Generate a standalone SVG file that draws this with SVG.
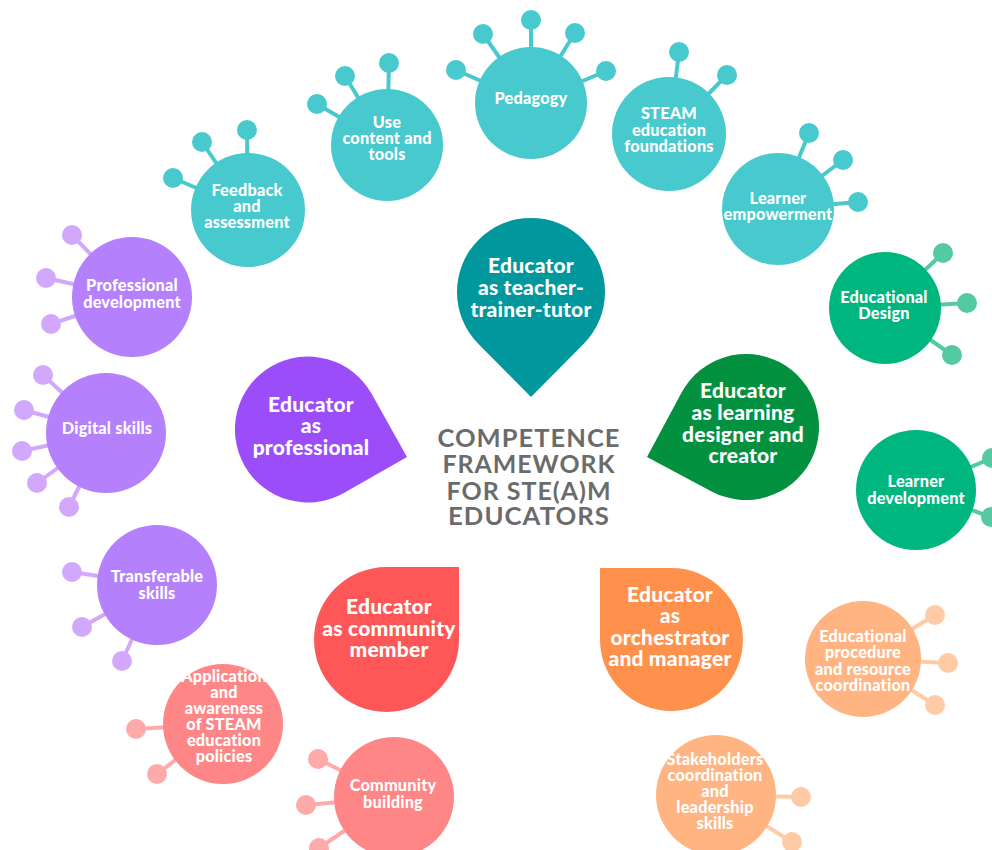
<svg xmlns="http://www.w3.org/2000/svg" width="992" height="850" viewBox="0 0 992 850">
<style>
text{font-family:Lato,"Open Sans","Liberation Sans",sans-serif;font-weight:900;fill:#ffffff;text-anchor:middle}
.s{font-size:16.3px;letter-spacing:0.2px}
.b{font-size:21px;letter-spacing:0.2px}
.title{font-size:25px;font-weight:700;fill:#6b6b6b;letter-spacing:1px}
.teal{fill:#48c9cd}.teal-l{stroke:#48c9cd;stroke-width:4}
.grn{fill:#00b67f}.grn-b{fill:#55c9a0}.grn-l{stroke:#55c9a0;stroke-width:4}
.pur{fill:#b580fc}.pur-b{fill:#d2a8fd}.pur-l{stroke:#d2a8fd;stroke-width:4}
.pnk{fill:#ff8686}.pnk-b{fill:#ffaaaa}.pnk-l{stroke:#ffaaaa;stroke-width:4}
.org{fill:#ffb482}.org-b{fill:#ffcba5}.org-l{stroke:#ffcba5;stroke-width:4}
</style>
<rect width="992" height="850" fill="#ffffff"/>

<g id="connectors"></g>

<!-- Teal competences -->
<g id="feedback">
<g class="teal-l"><line x1="248" y1="210" x2="173" y2="178"/><line x1="248" y1="210" x2="202" y2="142"/><line x1="248" y1="210" x2="247" y2="130"/></g>
<circle cx="248" cy="210" r="57" class="teal"/>
<circle cx="173" cy="178" r="10" class="teal"/><circle cx="202" cy="142" r="10" class="teal"/><circle cx="247" cy="130" r="10" class="teal"/>
<text class="s" x="247" y="196">Feedback<tspan x="247" dy="16">and</tspan><tspan x="247" dy="16">assessment</tspan></text>
</g>
<g id="content">
<g class="teal-l"><line x1="387" y1="145" x2="317" y2="104"/><line x1="387" y1="145" x2="345" y2="76"/><line x1="387" y1="145" x2="389" y2="63"/></g>
<circle cx="387" cy="145" r="56" class="teal"/>
<circle cx="317" cy="104" r="10" class="teal"/><circle cx="345" cy="76" r="10" class="teal"/><circle cx="389" cy="63" r="10" class="teal"/>
<text class="s" x="387" y="128">Use<tspan x="387" dy="16">content and</tspan><tspan x="387" dy="16">tools</tspan></text>
</g>
<g id="pedagogy">
<g class="teal-l"><line x1="531" y1="103" x2="456" y2="70"/><line x1="531" y1="103" x2="483" y2="34"/><line x1="531" y1="103" x2="531" y2="20"/><line x1="531" y1="103" x2="575" y2="33"/><line x1="531" y1="103" x2="606" y2="71"/></g>
<circle cx="531" cy="103" r="56" class="teal"/>
<circle cx="456" cy="70" r="10" class="teal"/><circle cx="483" cy="34" r="10" class="teal"/><circle cx="531" cy="20" r="10" class="teal"/><circle cx="575" cy="33" r="10" class="teal"/><circle cx="606" cy="71" r="10" class="teal"/>
<text class="s" x="531" y="104">Pedagogy</text>
</g>
<g id="steam">
<g class="teal-l"><line x1="669" y1="134" x2="679" y2="52"/><line x1="669" y1="134" x2="727" y2="75"/></g>
<circle cx="669" cy="134" r="57" class="teal"/>
<circle cx="679" cy="52" r="10" class="teal"/><circle cx="727" cy="75" r="10" class="teal"/>
<text class="s" x="669" y="119">STEAM<tspan x="669" dy="16.5">education</tspan><tspan x="669" dy="16.5">foundations</tspan></text>
</g>
<g id="empowerment">
<g class="teal-l"><line x1="778" y1="209" x2="809" y2="133"/><line x1="778" y1="209" x2="843" y2="160"/><line x1="778" y1="209" x2="858" y2="202"/></g>
<circle cx="778" cy="209" r="56" class="teal"/>
<circle cx="809" cy="133" r="10" class="teal"/><circle cx="843" cy="160" r="10" class="teal"/><circle cx="858" cy="202" r="10" class="teal"/>
<text class="s" x="778" y="204">Learner<tspan x="778" dy="15.5">empowerment</tspan></text>
</g>

<!-- Green competences -->
<g id="edesign">
<g class="grn-l"><line x1="885" y1="308" x2="943" y2="253"/><line x1="885" y1="308" x2="967" y2="303"/><line x1="885" y1="308" x2="952" y2="355"/></g>
<circle cx="885" cy="308" r="56" class="grn"/>
<circle cx="943" cy="253" r="10" class="grn-b"/><circle cx="967" cy="303" r="10" class="grn-b"/><circle cx="952" cy="355" r="10" class="grn-b"/>
<text class="s" x="884" y="303">Educational<tspan x="884" dy="16">Design</tspan></text>
</g>
<g id="ldev">
<g class="grn-l"><line x1="916" y1="490" x2="992" y2="458"/><line x1="916" y1="490" x2="991" y2="517"/></g>
<circle cx="916" cy="490" r="60" class="grn"/>
<circle cx="992" cy="458" r="10" class="grn-b"/><circle cx="991" cy="517" r="10" class="grn-b"/>
<text class="s" x="916" y="487">Learner<tspan x="916" dy="17">development</tspan></text>
</g>

<!-- Purple competences -->
<g id="profdev">
<g class="pur-l"><line x1="132" y1="297" x2="72" y2="235"/><line x1="132" y1="297" x2="46" y2="278"/><line x1="132" y1="297" x2="51" y2="324"/></g>
<circle cx="132" cy="297" r="60" class="pur"/>
<circle cx="72" cy="235" r="10" class="pur-b"/><circle cx="46" cy="278" r="10" class="pur-b"/><circle cx="51" cy="324" r="10" class="pur-b"/>
<text class="s" x="132" y="291">Professional<tspan x="132" dy="17">development</tspan></text>
</g>
<g id="digital">
<g class="pur-l"><line x1="106" y1="433" x2="43" y2="375"/><line x1="106" y1="433" x2="24" y2="410"/><line x1="106" y1="433" x2="22" y2="451"/><line x1="106" y1="433" x2="37" y2="483"/><line x1="106" y1="433" x2="69" y2="507"/></g>
<circle cx="106" cy="433" r="60" class="pur"/>
<circle cx="43" cy="375" r="10" class="pur-b"/><circle cx="24" cy="410" r="10" class="pur-b"/><circle cx="22" cy="451" r="10" class="pur-b"/><circle cx="37" cy="483" r="10" class="pur-b"/><circle cx="69" cy="507" r="10" class="pur-b"/>
<text class="s" x="107" y="434">Digital skills</text>
</g>
<g id="transferable">
<g class="pur-l"><line x1="157" y1="585" x2="72" y2="572"/><line x1="157" y1="585" x2="82" y2="627"/><line x1="157" y1="585" x2="122" y2="661"/></g>
<circle cx="157" cy="585" r="60" class="pur"/>
<circle cx="72" cy="572" r="10" class="pur-b"/><circle cx="82" cy="627" r="10" class="pur-b"/><circle cx="122" cy="661" r="10" class="pur-b"/>
<text class="s" x="157" y="582">Transferable<tspan x="157" dy="17">skills</tspan></text>
</g>

<!-- Pink competences -->
<g id="policies">
<g class="pnk-l"><line x1="223" y1="724" x2="136" y2="729"/><line x1="223" y1="724" x2="157" y2="774"/></g>
<circle cx="223" cy="724" r="60" class="pnk"/>
<circle cx="136" cy="729" r="10" class="pnk-b"/><circle cx="157" cy="774" r="10" class="pnk-b"/>
<text class="s" x="224" y="682">Application<tspan x="224" dy="16">and</tspan><tspan x="224" dy="16">awareness</tspan><tspan x="224" dy="16">of STEAM</tspan><tspan x="224" dy="16">education</tspan><tspan x="224" dy="16">policies</tspan></text>
</g>
<g id="community">
<g class="pnk-l"><line x1="394" y1="797" x2="318" y2="759"/><line x1="394" y1="797" x2="306" y2="805"/><line x1="394" y1="797" x2="319" y2="848"/></g>
<circle cx="394" cy="797" r="60" class="pnk"/>
<circle cx="318" cy="759" r="10" class="pnk-b"/><circle cx="306" cy="805" r="10" class="pnk-b"/><circle cx="319" cy="848" r="10" class="pnk-b"/>
<text class="s" x="393" y="791">Community<tspan x="393" dy="17">building</tspan></text>
</g>

<!-- Orange competences -->
<g id="procedure">
<g class="org-l"><line x1="863" y1="659" x2="935" y2="615"/><line x1="863" y1="659" x2="948" y2="663"/><line x1="863" y1="659" x2="935" y2="705"/></g>
<circle cx="863" cy="659" r="58" class="org"/>
<circle cx="935" cy="615" r="10" class="org-b"/><circle cx="948" cy="663" r="10" class="org-b"/><circle cx="935" cy="705" r="10" class="org-b"/>
<text class="s" x="863" y="642">Educational<tspan x="863" dy="16">procedure</tspan><tspan x="863" dy="16.5">and resource</tspan><tspan x="863" dy="16.5">coordination</tspan></text>
</g>
<g id="stakeholders">
<g class="org-l"><line x1="716" y1="795" x2="801" y2="797"/><line x1="716" y1="795" x2="792" y2="842"/></g>
<circle cx="716" cy="795" r="60" class="org"/>
<circle cx="801" cy="797" r="10" class="org-b"/><circle cx="792" cy="842" r="10" class="org-b"/>
<text class="s" x="715" y="765">Stakeholders<tspan x="715" dy="16">coordination</tspan><tspan x="715" dy="16">and</tspan><tspan x="715" dy="16">leadership</tspan><tspan x="715" dy="16">skills</tspan></text>
</g>

<!-- Main roles -->
<g id="role-teacher">
<path d="M531,397 L478.7,344.3 A74,74 0 1 1 583.3,344.3 Z" fill="#00979d"/>
<text class="b" x="531" y="273">Educator<tspan x="531" dy="22">as teacher-</tspan><tspan x="531" dy="22">trainer-tutor</tspan></text>
</g>
<g id="role-designer">
<path d="M647,457 L681.6,392.6 A73,73 0 1 1 711.6,491.4 Z" fill="#03913f"/>
<text class="b" x="743" y="398">Educator<tspan x="743" dy="22">as learning</tspan><tspan x="743" dy="22">designer and</tspan><tspan x="743" dy="21">creator</tspan></text>
</g>
<g id="role-professional">
<path d="M407,457 L343.9,493 A73,73 0 1 1 371.5,393.6 Z" fill="#9b4dfa"/>
<text class="b" x="311" y="412">Educator<tspan x="311" dy="21">as</tspan><tspan x="311" dy="22">professional</tspan></text>
</g>
<g id="role-community">
<path d="M386.5,567 L459,567 L459,639.5 A72.5,72.5 0 1 1 386.5,567 Z" fill="#ff5757"/>
<text class="b" x="389" y="614">Educator<tspan x="389" dy="22">as community</tspan><tspan x="389" dy="21">member</tspan></text>
</g>
<g id="role-orchestrator">
<path d="M600,568 L671.5,568 A71.5,71.5 0 1 1 600,640 Z" fill="#ff914d"/>
<text class="b" x="670" y="602">Educator<tspan x="670" dy="21">as</tspan><tspan x="670" dy="22">orchestrator</tspan><tspan x="670" dy="21">and manager</tspan></text>
</g>

<g id="title">
<text class="title" x="529" y="447" textLength="183" lengthAdjust="spacingAndGlyphs">COMPETENCE</text>
<text class="title" x="529" y="473" textLength="173" lengthAdjust="spacingAndGlyphs">FRAMEWORK</text>
<text class="title" x="529" y="500" textLength="165" lengthAdjust="spacingAndGlyphs">FOR STE(A)M</text>
<text class="title" x="529" y="525" textLength="162" lengthAdjust="spacingAndGlyphs">EDUCATORS</text>
</g>
</svg>
